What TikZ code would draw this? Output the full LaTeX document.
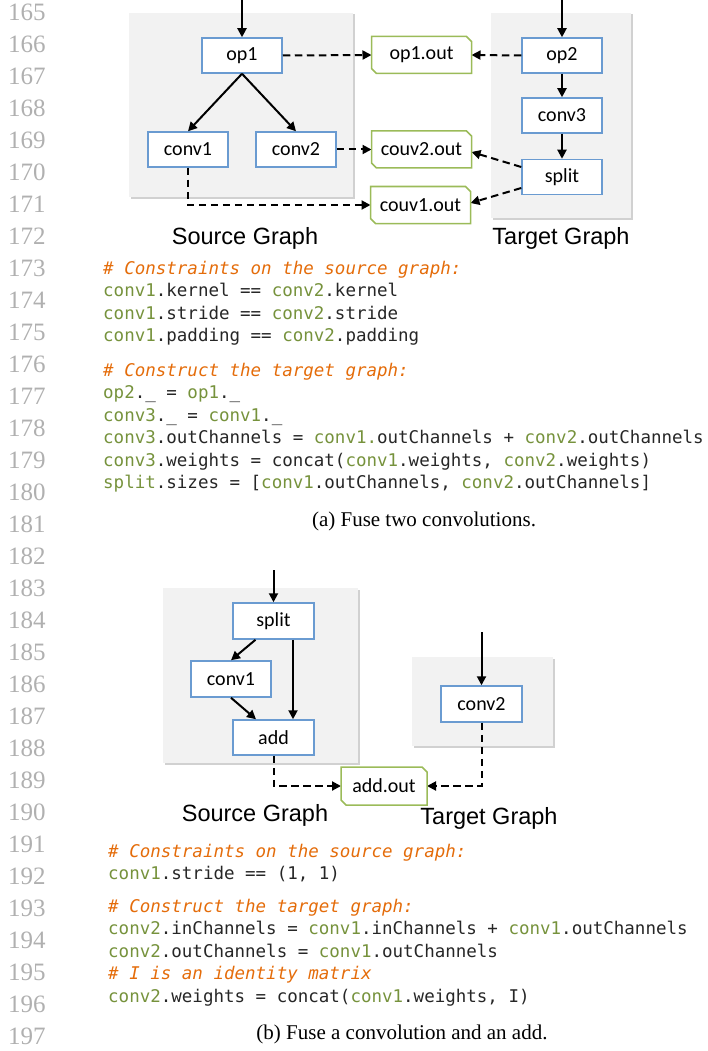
\documentclass[tikz,border=0pt]{standalone}
\usepackage{fontspec}
\setmainfont{Liberation Serif}
\setmonofont{DejaVu Sans Mono}
\newfontfamily\nodefont{Carlito}
\newfontfamily\labfont{Liberation Sans}
\usetikzlibrary{arrows.meta,shadows}
\definecolor{boxblue}{HTML}{6A9BD1}
\definecolor{outgreen}{HTML}{9BBB59}
\definecolor{panelgray}{HTML}{F2F2F2}
\definecolor{cmtorange}{HTML}{E46C0A}
\definecolor{codegreen}{HTML}{76923C}
\definecolor{codeblack}{HTML}{262626}
\definecolor{lnumgray}{HTML}{B0B0B0}
\newcommand\cgr[1]{\textcolor{codegreen}{#1}}
\begin{document}
\begin{tikzpicture}[x=1pt,y=-1pt,
  op/.style={draw=boxblue, fill=white, line width=1.5pt, minimum width=80pt, minimum height=35pt, inner sep=0pt, font=\nodefont\fontsize{20}{22}\selectfont, text=black},
  outbox/.style={rectangle, minimum width=100pt, minimum height=37pt, inner sep=0pt, outer sep=0pt, font=\nodefont\fontsize{20}{22}\selectfont, text=black},
  outline/.style={draw=outgreen, line width=1.5pt, line join=miter},
  panel/.style={fill=panelgray, inner sep=0pt, drop shadow={shadow xshift=1.5pt, shadow yshift=-1.5pt, fill=black!40, opacity=0.45}},
  glabel/.style={font=\labfont\fontsize{23.5}{26}\selectfont, inner sep=0pt},
  flow/.style={line width=2pt, -{Triangle[length=9pt,width=9pt]}},
  dflow/.style={flow, dash pattern=on 7.5pt off 4.5pt},
  code/.style={font=\ttfamily\fontsize{17.5}{20}\selectfont, text=codeblack, anchor=base west, inner sep=0pt},
  cmt/.style={code, text=cmtorange, font=\ttfamily\itshape\fontsize{17.5}{20}\selectfont},
  lnum/.style={font=\fontsize{25}{28}\selectfont, text=lnumgray, anchor=west, inner sep=0pt},
  captext/.style={font=\fontsize{21}{24}\selectfont, inner sep=0pt}
]
\useasboundingbox (0,0) rectangle (707,1051);

% line numbers
\foreach \n in {165,...,197} \node[lnum] (ln\n) at (8,{12+32*(\n-165)}) {\n};

% ---------- (a) ----------
\node[panel, minimum width=224pt, minimum height=184pt] (srcA) at (241,105) {};
\node[panel, minimum width=140pt, minimum height=205pt] (tgtA) at (561,115.5) {};

\node[op] (op1) at (242,55.5) {op1};
\node[op] (conv1a) at (188,149.5) {conv1};
\node[op] (conv2a) at (296,149.5) {conv2};
\node[op] (op2) at (562,55.5) {op2};
\node[op] (conv3) at (562,115.5) {conv3};
\node[op] (splita) at (562,177) {split};

\node[outbox] (o1) at (421.5,55) {op1.out};
\node[outbox] (c2o) at (421.5,149.5) {couv2.out};
\node[outbox] (c1o) at (420.5,205) {couv1.out};

\coordinate (inA1) at (242,0);
\coordinate (inA2) at (562,0);
\draw[flow] (inA1) -- (op1.north);
\draw[flow] (inA2) -- (op2.north);
\draw[flow] (op1.south) -- (conv1a.north);
\draw[flow] (op1.south) -- (conv2a.north);
\draw[flow] (op2.south) -- (conv3.north);
\draw[flow] (conv3.south) -- (splita.north);

\draw[dflow] (op1.east) -- (o1.west);
\draw[dflow] (op2.west) -- (o1.east);
\draw[dflow] (conv2a.east) -- (c2o.west);
\draw[dflow] (conv1a.south) |- (c1o.west);
\draw[dflow] ([yshift=10pt]splita.west) -- ([yshift=-2.5pt]c2o.east);
\draw[dflow] ([yshift=-11pt]splita.west) -- ([yshift=2pt]c1o.east);

\node[glabel] (srcAlab) at (245,238) {Source Graph};
\node[glabel] (tgtAlab) at (561,238) {Target Graph};

% code (a)
\node[cmt] (a1) at (103,274) {\#~Constraints on the source graph:};
\node[code] (a2) at (103,296.5) {\cgr{conv1}.kernel == \cgr{conv2}.kernel};
\node[code] (a3) at (103,319) {\cgr{conv1}.stride == \cgr{conv2}.stride};
\node[code] (a4) at (103,341.5) {\cgr{conv1}.padding == \cgr{conv2}.padding};
\node[cmt] (a5) at (103,376) {\#~Construct the target graph:};
\node[code] (a6) at (103,398.5) {\cgr{op2}.\_ = \cgr{op1}.\_};
\node[code] (a7) at (103,421) {\cgr{conv3}.\_ = \cgr{conv1}.\_};
\node[code] (a8) at (103,443.5) {\cgr{conv3}.outChannels = \cgr{conv1.}outChannels + \cgr{conv2}.outChannels};
\node[code] (a9) at (103,466) {\cgr{conv3}.weights = concat(\cgr{conv1}.weights, \cgr{conv2}.weights)};
\node[code] (a10) at (103,488.5) {\cgr{split}.sizes = [\cgr{conv1}.outChannels, \cgr{conv2}.outChannels]};

\node[captext] (capa) at (424,521) {(a) Fuse two convolutions.};

% ---------- (b) ----------
\node[panel, minimum width=195pt, minimum height=175pt] (srcB) at (260.5,675.5) {};
\node[panel, minimum width=141pt, minimum height=89pt] (tgtB) at (482.5,701.5) {};

\node[op, minimum width=81pt, minimum height=36pt] (splitb) at (273.5,621) {split};
\node[op, minimum height=36pt] (conv1b) at (231,679) {conv1};
\node[op, minimum width=81pt] (addb) at (273.5,737.5) {add};
\node[op, minimum width=81pt, minimum height=36pt] (conv2b) at (481.5,704) {conv2};
\node[outbox, minimum width=86pt, minimum height=38pt] (ao) at (384,786) {add.out};

\coordinate (inB1) at (273.5,570);
\coordinate (inB2) at (481.5,632);
\draw[flow] (inB1) -- (splitb.north);
\draw[flow] (inB2) -- (conv2b.north);
\draw[flow] ([xshift=-18pt]splitb.south) -- (conv1b.north);
\draw[flow] ([xshift=19.5pt]splitb.south) -- ([xshift=19.5pt]addb.north);
\draw[flow] (conv1b.south) -- ([xshift=-17.5pt]addb.north);
\draw[dflow] (addb.south) |- (ao.west);
\draw[dflow] (conv2b.south) |- (ao.east);

\node[glabel] (srcBlab) at (255,815) {Source Graph};
\node[glabel] (tgtBlab) at (489,818) {Target Graph};

% snipped outlines of the output tags
\foreach \n in {o1,c2o,c1o,ao}
  \draw[outline] (\n.north west) -- ([xshift=-5pt]\n.north east) -- ([yshift=-5pt]\n.north east)
    -- (\n.south east) -- ([xshift=5pt]\n.south west) -- ([yshift=5pt]\n.south west) -- cycle;

% code (b)
\node[cmt] (b1) at (108,857) {\#~Constraints on the source graph:};
\node[code] (b2) at (108,879.5) {\cgr{conv1}.stride == (1, 1)};
\node[cmt] (b3) at (108,912) {\#~Construct the target graph:};
\node[code] (b4) at (108,934.5) {\cgr{conv2}.inChannels = \cgr{conv1}.inChannels + \cgr{conv1}.outChannels};
\node[code] (b5) at (108,957) {\cgr{conv2}.outChannels = \cgr{conv1}.outChannels};
\node[cmt] (b6) at (108,979.5) {\#~I is an identity matrix};
\node[code] (b7) at (108,1002) {\cgr{conv2}.weights = concat(\cgr{conv1}.weights, I)};

\node[captext] (capb) at (402,1034) {(b) Fuse a convolution and an add.};
\end{tikzpicture}
\end{document}
